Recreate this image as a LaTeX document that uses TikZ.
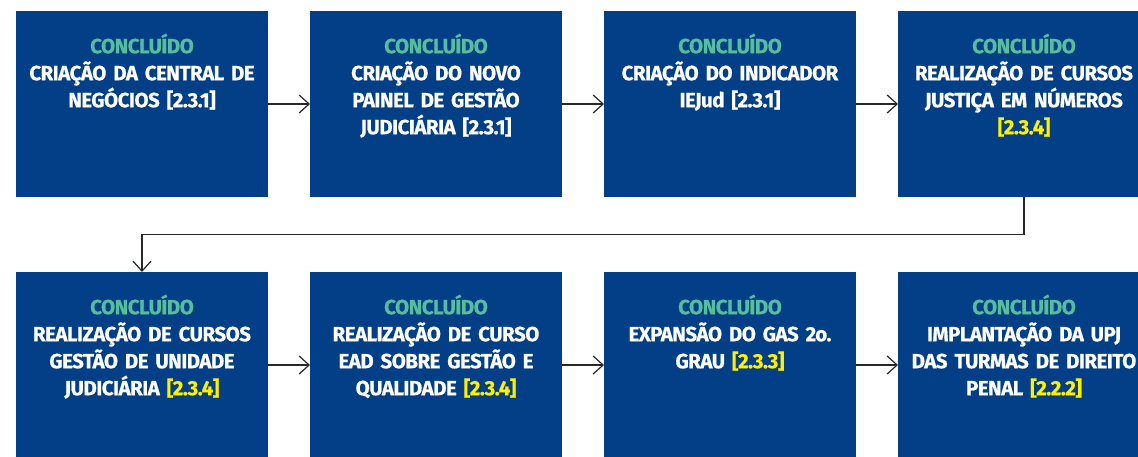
\documentclass[tikz,border=0pt]{standalone}
\usepackage{fontspec}
\setmainfont{Fira Sans}[WordSpace=0.8, LetterSpace=-2.5, BoldFeatures={FakeBold=0.6}]
\usetikzlibrary{arrows.meta,calc}
\definecolor{boxblue}{RGB}{3,63,135}
\definecolor{donegreen}{RGB}{86,190,156}
\definecolor{refyellow}{RGB}{255,240,0}
\definecolor{linegray}{RGB}{40,40,40}
\tikzset{
  stagebox/.style={fill=boxblue, draw=none, minimum width=252pt, minimum height=186pt, inner sep=0pt, outer sep=0pt},
  stagetext/.style={anchor=north, text=white, font=\bfseries\fontsize{20.5pt}{27pt}\selectfont, align=center, inner sep=0pt, text width=250pt},
  flow/.style={draw=linegray, line width=1.2pt, -{Straight Barb[length=10pt,width=18pt]}},
}
\newcommand{\donetag}{\rule{0pt}{20pt}\textcolor{donegreen}{CONCLUÍDO}}
\newcommand{\refy}[1]{\textcolor{refyellow}{#1}}
\begin{document}
\begin{tikzpicture}[x=1pt,y=-1pt]
\useasboundingbox (0,0) rectangle (1138,456);
\clip (0,0) rectangle (1138,456);
\fill[white] (0,0) rectangle (1138,456);
% row 1
\node[stagebox] (b1) at (142,104) {};
\node[stagebox] (b2) at (436,104) {};
\node[stagebox] (b3) at (730,104) {};
\node[stagebox] (b4) at (1024,104) {};
% row 2
\node[stagebox] (b5) at (142,365) {};
\node[stagebox] (b6) at (436,365) {};
\node[stagebox] (b7) at (730,365) {};
\node[stagebox] (b8) at (1024,365) {};
% texts
\node[stagetext] (t1) at ($(b1.north)+(0,22)$) {\donetag\\CRIAÇÃO DA CENTRAL DE\\NEGÓCIOS [2.3.1]};
\node[stagetext] (t2) at ($(b2.north)+(0,22)$) {\donetag\\CRIAÇÃO DO NOVO\\PAINEL DE GESTÃO\\JUDICIÁRIA [2.3.1]};
\node[stagetext] (t3) at ($(b3.north)+(0,22)$) {\donetag\\CRIAÇÃO DO INDICADOR\\IEJud [2.3.1]};
\node[stagetext] (t4) at ($(b4.north)+(0,22)$) {\donetag\\REALIZAÇÃO DE CURSOS\\JUSTIÇA EM NÚMEROS\\\refy{[2.3.4]}};
\node[stagetext] (t5) at ($(b5.north)+(0,22)$) {\donetag\\REALIZAÇÃO DE CURSOS\\GESTÃO DE UNIDADE\\JUDICIÁRIA \refy{[2.3.4]}};
\node[stagetext] (t6) at ($(b6.north)+(0,22)$) {\donetag\\REALIZAÇÃO DE CURSO\\EAD SOBRE GESTÃO E\\QUALIDADE \refy{[2.3.4]}};
\node[stagetext] (t7) at ($(b7.north)+(0,22)$) {\donetag\\EXPANSÃO DO GAS 2o.\\GRAU \refy{[2.3.3]}};
\node[stagetext] (t8) at ($(b8.north)+(0,22)$) {\donetag\\IMPLANTAÇÃO DA UPJ\\DAS TURMAS DE DIREITO\\PENAL \refy{[2.2.2]}};
% connectors
\draw[flow] (b1.east) -- (b2.west);
\draw[flow] (b2.east) -- (b3.west);
\draw[flow] (b3.east) -- (b4.west);
\draw[flow] (b4.south) -- ($(b4.south)!0.5!(b8.north)$) -| (b5.north);
\draw[flow] (b5.east) -- (b6.west);
\draw[flow] (b6.east) -- (b7.west);
\draw[flow] (b7.east) -- (b8.west);
\end{tikzpicture}
\end{document}
